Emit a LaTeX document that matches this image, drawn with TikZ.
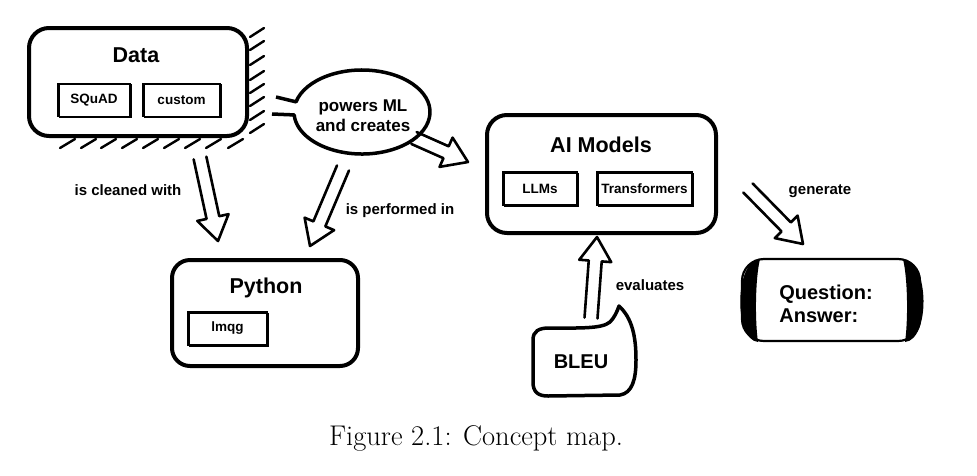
\documentclass[tikz,border=0pt]{standalone}
\usepackage{fontspec}
\setsansfont{Liberation Sans}
\usetikzlibrary{calc,positioning}

% hollow block arrow from #1 (open tail) to #2 (tip)
\newcommand{\hollowarrow}[2]{%
\coordinate (hb) at ($(#2)!24pt!(#1)$);
\draw[arrowline] ($(#1)!6.5pt!90:(#2)$) -- ($(hb)!6.5pt!90:(#2)$) -- ($(hb)!16pt!90:(#2)$)
  -- (#2) -- ($(hb)!16pt!-90:(#2)$) -- ($(hb)!6.5pt!-90:(#2)$) -- ($(#1)!6.5pt!-90:(#2)$);}

\begin{document}
\begin{tikzpicture}
% pixel-like frame, y pointing down
[x=1pt,y=-1pt,
 bigbox/.style={draw,line width=4pt,rounded corners=20pt,inner sep=0pt},
 tagbox/.style={draw,line width=1.3pt,minimum height=33pt,inner sep=0pt,
   font=\fontsize{13.5}{15}\selectfont\sffamily\bfseries,
   postaction={draw,line width=0.6pt,transform canvas={xshift=1.3pt,yshift=-1.2pt}}},
 title/.style={font=\fontsize{21.5}{24}\selectfont\sffamily\bfseries},
 lab/.style={font=\fontsize{15}{17}\selectfont\sffamily\bfseries},
 arrowline/.style={line width=2.6pt,line join=round,line cap=round},
 hatch/.style={line width=2.4pt,line cap=round}]
\useasboundingbox (0,0) rectangle (977,475);

%Data box with its hatched shadow:
\node[bigbox,minimum width=218pt,minimum height=108pt] (data) at (138,82) {};
\node[title] (datat) at (136,55) {Data};
\node[tagbox,minimum width=72pt] (squad) at (94,100) {SQuAD};
\node[tagbox,minimum width=77pt] (custom) at (181.5,100) {custom};
\foreach \y in {32,45,60,75,88,101,115,128}{
\draw[hatch] (250,\y+5) -- (264,\y-4);}
\foreach \x in {60,81,101,122,143,164,185,206,228}{
\draw[hatch] (\x,148) -- (\x+15,139);}

%Speech bubble:
\node[font=\fontsize{17}{20}\selectfont\sffamily\bfseries,align=center] (bubble) at (363,116) {powers ML\\and creates};
\draw[line width=3.5pt,line join=round] (276,97) -- ($(362,112)+(194:68 and 42)$)
  arc[start angle=194,end angle=536,x radius=68,y radius=42] -- (272,114);

%AI Models box:
\node[bigbox,minimum width=229pt,minimum height=118pt] (ai) at (601.5,174) {};
\node[title] (ait) at (601,145) {AI Models};
\node[tagbox,minimum width=74pt] (llms) at (540,188.5) {LLMs};
\node[tagbox,minimum width=95pt] (trans) at (644.5,188.5) {Transformers};

%Python box:
\node[bigbox,minimum width=186pt,minimum height=106pt,rounded corners=18pt] (python) at (265,313) {};
\node[title] (pythont) at (266,288) {Python};
\node[tagbox,minimum width=79pt] (lmqg) at (227.5,328.5) {lmqg};

%BLEU shape:
\node[title,font=\fontsize{20}{23}\selectfont\sffamily\bfseries] (bleu) at (581,362) {BLEU};
\draw[line width=3.5pt,line join=round] (533,340) .. controls (533,331) and (539,328) .. (549,328)
  .. controls (578,328) and (602,329) .. (610,322) .. controls (614,318) and (617,312) .. (619,306)
  .. controls (632,318) and (636,336) .. (636,360) .. controls (636,380) and (632,393) .. (620,395)
  -- (548,396) .. controls (538,396) and (533,392) .. (533,382) -- cycle;

%Question / Answer box:
\node[draw,line width=2.2pt,rounded corners=22pt,minimum width=178pt,minimum height=82pt] (qa) at (831,300) {};
\fill (760,259) .. controls (734,261) and (734,340) .. (758,342) .. controls (755,322) and (755,280) .. (760,259);
\fill (903,259) .. controls (930,261) and (930,340) .. (905,342) .. controls (908,322) and (908,280) .. (903,259);
\node[font=\fontsize{20}{23}\selectfont\sffamily\bfseries,align=left] (qat) at (826,304) {Question:\\Answer:};

%Arrows and their labels:
\coordinate (clean-s) at (200,158);
\coordinate (clean-e) at (218,241);
\coordinate (perf-s) at (343,168);
\coordinate (perf-e) at (310,246);
\coordinate (ml-s) at (414,138);
\coordinate (ml-e) at (468,162);
\coordinate (eval-s) at (591,318);
\coordinate (eval-e) at (597,237);
\coordinate (gen-s) at (748,188);
\coordinate (gen-e) at (803,244);
\hollowarrow{clean-s}{clean-e}
\hollowarrow{perf-s}{perf-e}
\hollowarrow{ml-s}{ml-e}
\hollowarrow{eval-s}{eval-e}
\hollowarrow{gen-s}{gen-e}
\node[lab] (cleanl) at (128,190) {is cleaned with};
\node[lab] (perfl) at (400,211) {is performed in};
\node[lab] (evall) at (650,285) {evaluates};
\node[lab] (genl) at (820,191) {generate};

%Caption:
\node[font=\fontsize{28.5}{32}\selectfont] (caption) at (476,438) {Figure 2.1: Concept map.};
\end{tikzpicture}
\end{document}
